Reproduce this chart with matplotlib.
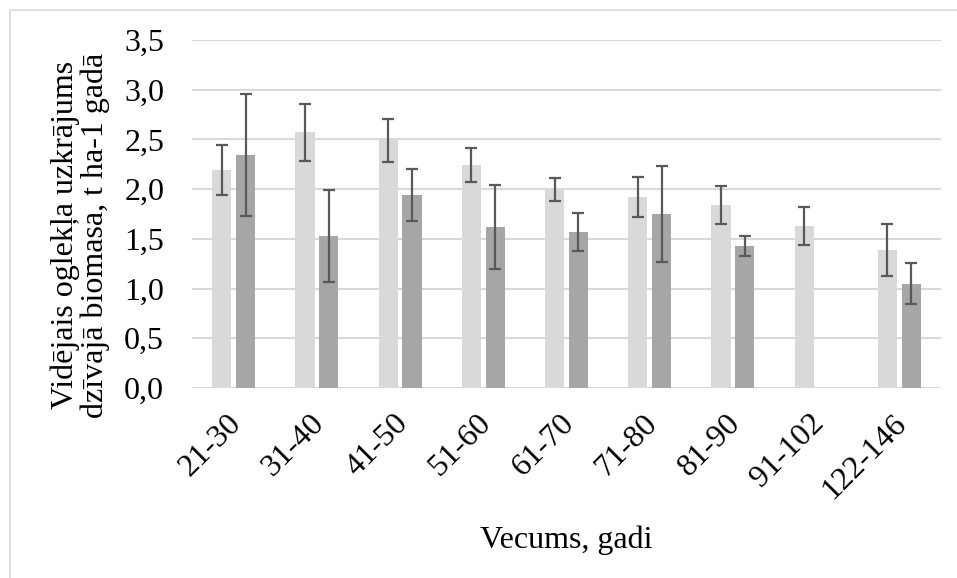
import numpy as np
import matplotlib
matplotlib.use('Agg')
import matplotlib.pyplot as plt
from matplotlib.patches import Rectangle
from matplotlib.transforms import ScaledTranslation

# Age classes and mean carbon stock in living biomass, two stand groups
age_classes = ['21-30', '31-40', '41-50', '51-60', '61-70', '71-80', '81-90', '91-102', '122-146']
light_vals = [2.19, 2.57, 2.49, 2.24, 2.00, 1.92, 1.84, 1.63, 1.39]
light_err = [0.25, 0.285, 0.22, 0.17, 0.115, 0.20, 0.19, 0.19, 0.26]
dark_vals = [2.34, 1.53, 1.94, 1.62, 1.57, 1.75, 1.43, np.nan, 1.05]
dark_err = [0.615, 0.46, 0.26, 0.42, 0.195, 0.485, 0.10, np.nan, 0.21]
y_ticks = [0.0, 0.5, 1.0, 1.5, 2.0, 2.5, 3.0, 3.5]

plt.rcParams['font.family'] = ['Liberation Serif', 'DejaVu Serif']

fig = plt.figure(figsize=(9.57, 5.78), dpi=100)
ax = fig.add_axes([192 / 957, 1 - 388 / 578, 749 / 957, 348 / 578])

# light frame around the chart area
fig.patches.append(Rectangle((9.5 / 957, -0.1), 1.2, 1 - 10 / 578 + 0.1,
                             transform=fig.transFigure, fill=False,
                             edgecolor='#d9d9d9', linewidth=1.2))

x = np.arange(len(age_classes))
width = 0.23
offset = 0.143
err_style = dict(ecolor='#595959', elinewidth=1.6, capsize=4.5, capthick=1.6)

ax.bar(x - offset, light_vals, width, color='#d9d9d9', zorder=2,
       yerr=light_err, error_kw=err_style)
ax.bar(x + offset, dark_vals, width, color='#a6a6a6', zorder=2,
       yerr=dark_err, error_kw=err_style)

ax.set_xlim(-0.5, len(age_classes) - 0.5)
ax.set_ylim(0, 3.5)
ax.set_yticks(y_ticks)
ax.set_yticklabels([f'{v:.1f}'.replace('.', ',') for v in y_ticks], fontsize=23)
ax.set_xticks(x)
ax.set_xticklabels(age_classes, fontsize=23, rotation=45, ha='right',
                   rotation_mode='anchor')
ax.tick_params(length=0)
ax.tick_params(axis='y', pad=20)
ax.tick_params(axis='x', pad=15)
# nudge the slanted labels a little to the left
shift = ScaledTranslation(-7 / 100, 0, fig.dpi_scale_trans)
for lbl in ax.get_xticklabels():
    lbl.set_transform(lbl.get_transform() + shift)

ax.grid(axis='y', color='#d9d9d9', linewidth=1.5, zorder=0)
ax.set_axisbelow(True)
for side in ['top', 'right', 'left', 'bottom']:
    ax.spines[side].set_visible(False)

ax.set_ylabel('Vidējais oglekļa uzkrājums\ndzīvajā biomasa, t ha-1 gadā',
              fontsize=23, linespacing=1.05)
ax.yaxis.set_label_coords(-0.109, 0.44)
ax.set_xlabel('Vecums, gadi', fontsize=23)
ax.xaxis.set_label_coords(0.5, -0.395)

fig.savefig('out.png', dpi=100)
